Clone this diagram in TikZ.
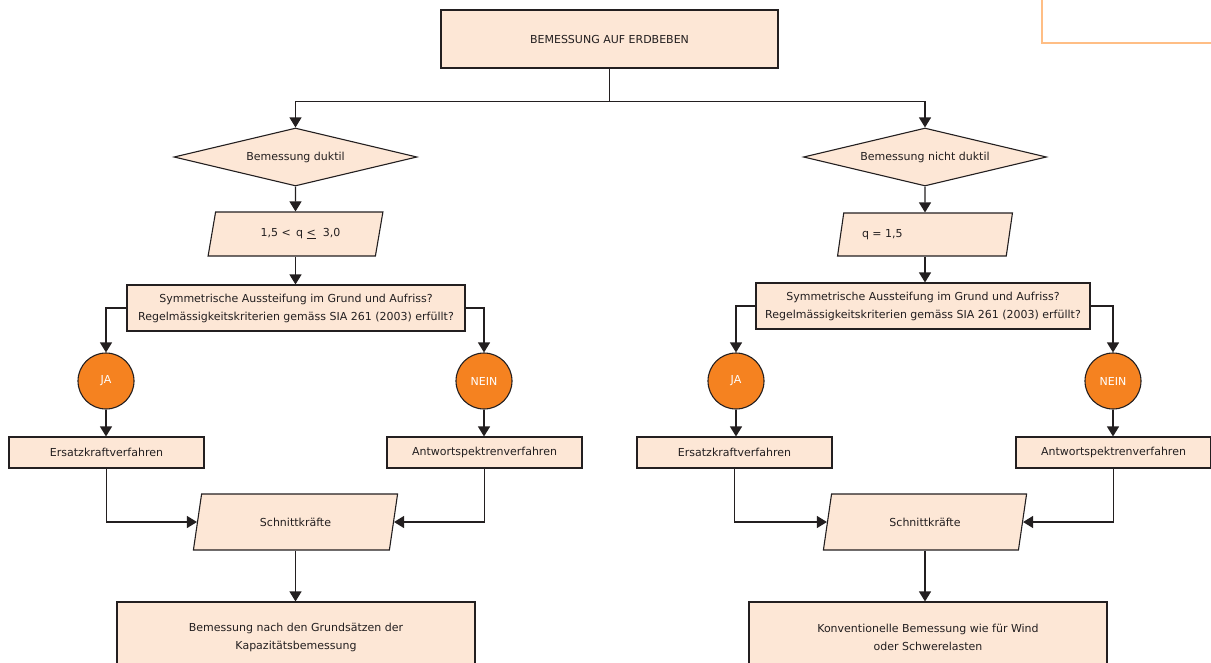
\documentclass[tikz,border=0pt]{standalone}
\usepackage{fontspec}
\setmainfont{DejaVu Sans}
\usetikzlibrary{shapes.geometric,arrows.meta}
\definecolor{peach}{RGB}{253,231,214}
\definecolor{jaorange}{RGB}{245,130,32}
\definecolor{frameorange}{RGB}{255,190,133}
\definecolor{ink}{RGB}{35,31,32}
\begin{document}
\begin{tikzpicture}[x=1pt,y=-1pt,
  every node/.style={text=ink, font=\fontsize{11}{18}\selectfont},
  box/.style={draw=ink, line width=1.1pt, fill=peach, inner sep=0pt, align=center},
  decision/.style={box, diamond, aspect=4.2, minimum width=243pt, minimum height=58pt},
  datashape/.style={box, trapezium, trapezium stretches=true,
    trapezium left angle=#1, trapezium right angle=180-#1},
  question/.style={box, font=\fontsize{11}{18}\selectfont, minimum height=46pt},
  answer/.style={draw=ink, line width=1.1pt, fill=jaorange, circle,
    minimum size=56pt, inner sep=0pt, text=white},
  method/.style={box, minimum width=195pt, minimum height=31pt},
  arr/.style={draw=ink, line width=1.1pt, -{Triangle[length=10pt,width=12pt]}}
]
  \clip (0,0) rectangle (1211,662);

  % frame corner top right
  \draw[frameorange, line width=2.4pt] (1042,-5) -- (1042,43) -- (1216,43);

  \node[box, minimum width=337pt, minimum height=58pt] (top) at (609.5,39) {BEMESSUNG AUF ERDBEBEN};

  % left branch
  \node[decision] (d1) at (295.5,157) {Bemessung duktil};
  \node[datashape=68, minimum width=176pt, minimum height=44pt] (p1) at (295.5,234)
    {\hspace*{10pt}1,5 <\, q \underline{<}\,\, 3,0};
  \node[question, minimum width=338pt] (sym1) at (296,308)
    {Symmetrische Aussteifung im Grund und Aufriss?\\Regelmässigkeitskriterien gemäss SIA 261 (2003) erfüllt?};
  \node[answer] (ja1) at (106,381) {JA};
  \node[answer] (nein1) at (484,381) {NEIN};
  \node[method] (ek1) at (106.5,452.5) {Ersatzkraftverfahren};
  \node[method] (aw1) at (484.5,452.5) {Antwortspektrenverfahren};
  \node[datashape=70, minimum width=205pt, minimum height=56pt] (s1) at (295.5,522) {Schnittkräfte};
  \node[box, minimum width=358pt, minimum height=70pt] (b1) at (296,637)
    {Bemessung nach den Grundsätzen der\\Kapazitätsbemessung};

  % right branch
  \node[decision] (d2) at (925,157) {Bemessung nicht duktil};
  \node[datashape=65, minimum width=175pt, minimum height=43pt] (p2) at (925,234.5)
    {\makebox[126pt][l]{q = 1,5}};
  \node[question, minimum width=334pt] (sym2) at (923,306)
    {Symmetrische Aussteifung im Grund und Aufriss?\\Regelmässigkeitskriterien gemäss SIA 261 (2003) erfüllt?};
  \node[answer] (ja2) at (736,381) {JA};
  \node[answer] (nein2) at (1113,381) {NEIN};
  \node[method] (ek2) at (734.5,452.5) {Ersatzkraftverfahren};
  \node[method] (aw2) at (1113.5,452.5) {Antwortspektrenverfahren};
  \node[datashape=70, minimum width=204pt, minimum height=56pt] (s2) at (925,522) {Schnittkräfte};
  \node[box, minimum width=358pt, minimum height=70pt] (b2) at (928,637)
    {Konventionelle Bemessung wie für Wind\\oder Schwerelasten};

  % connectors
  \draw[arr] (top.south) -- ++(0,33) -| (d1.north);
  \draw[arr] (top.south) -- ++(0,33) -| (d2.north);

  \draw[arr] (d1.south) -- (p1.north);
  \draw[arr] (p1.south) -- (p1.south |- sym1.north);
  \draw[arr] (sym1.west) -| (ja1.north);
  \draw[arr] (sym1.east) -| (nein1.north);
  \draw[arr] (ja1.south) -- (ja1.south |- ek1.north);
  \draw[arr] (nein1.south) -- (nein1.south |- aw1.north);
  \draw[arr] (ek1.south) |- (s1.west);
  \draw[arr] (aw1.south) |- (s1.east);
  \draw[arr] (s1.south) -- (s1.south |- b1.north);

  \draw[arr] (d2.south) -- (p2.north);
  \draw[arr] (p2.south) -- (p2.south |- sym2.north);
  \draw[arr] (sym2.west) -| (ja2.north);
  \draw[arr] (sym2.east) -| (nein2.north);
  \draw[arr] (ja2.south) -- (ja2.south |- ek2.north);
  \draw[arr] (nein2.south) -- (nein2.south |- aw2.north);
  \draw[arr] (ek2.south) |- (s2.west);
  \draw[arr] (aw2.south) |- (s2.east);
  \draw[arr] (s2.south) -- (s2.south |- b2.north);
\end{tikzpicture}
\end{document}
